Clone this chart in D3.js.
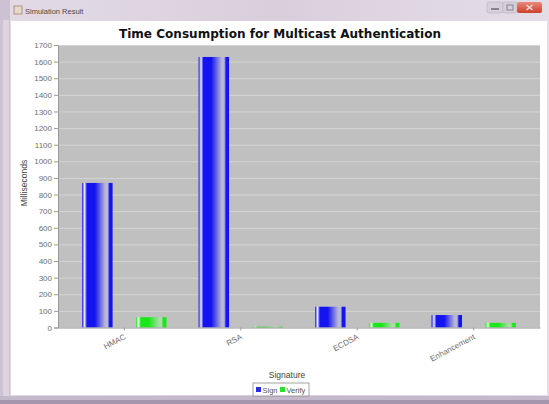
<!DOCTYPE html>
<html><head><meta charset="utf-8">
<script src="https://cdn.jsdelivr.net/npm/d3@7"></script>
<style>html,body{margin:0;padding:0;background:#fff;}svg{display:block;}</style>
</head><body>
<script>
const categories = ["HMAC", "RSA", "ECDSA", "Enhancement"];
const seriesNames = ["Sign", "Verify"];
const signValues = [870, 1628, 125, 75];
const verifyValues = [62, 5, 28, 28];
const yTicks = d3.range(0, 1701, 100);
const chartTitle = "Time Consumption for Multicast Authentication";
const xLabel = "Signature";
const yLabel = "Milliseconds";
const windowTitle = "Simulation Result";

const W = 549, H = 404;
const svg = d3.select("body").append("svg").attr("width", W).attr("height", H);
const defs = svg.append("defs");

// ---- window chrome ----
const tb = defs.append("linearGradient").attr("id","tb").attr("x1",0).attr("x2",1).attr("y1",0).attr("y2",0);
tb.append("stop").attr("offset",0).attr("stop-color","#e2dbe4");
tb.append("stop").attr("offset",0.5).attr("stop-color","#d9cfdc");
tb.append("stop").attr("offset",1).attr("stop-color","#e4dde7");
svg.append("rect").attr("x",0).attr("y",0).attr("width",W).attr("height",H).attr("fill","url(#tb)");
svg.append("rect").attr("x",0).attr("y",0).attr("width",10).attr("height",H).attr("fill","#cdc2d3");
svg.append("rect").attr("x",3).attr("y",20).attr("width",6).attr("height",H-24).attr("fill","#ddd4e0");
svg.append("rect").attr("x",0).attr("y",396).attr("width",W).attr("height",8).attr("fill","#c4b8cc");
svg.append("rect").attr("x",0).attr("y",400).attr("width",W).attr("height",4).attr("fill","#a596ad");
// content area
svg.append("rect").attr("x",11).attr("y",21).attr("width",536).attr("height",374).attr("fill","#ffffff");
// title bar text & icon
svg.append("rect").attr("x",14).attr("y",6).attr("width",8).attr("height",8).attr("fill","#e8d8c8").attr("stroke","#a08070").attr("stroke-width",0.8);
svg.append("text").attr("x",25).attr("y",14).attr("font-family","Liberation Sans, Arial, sans-serif")
  .attr("font-size",7.5).attr("fill","#4a4a4a").text(windowTitle);
// window buttons
svg.append("rect").attr("x",487).attr("y",2).attr("width",16).attr("height",11).attr("rx",2).attr("fill","#d7d0da").attr("stroke","#b8aebd").attr("stroke-width",0.6);
svg.append("rect").attr("x",491).attr("y",8).attr("width",8).attr("height",2).attr("fill","#8a8290");
svg.append("rect").attr("x",503).attr("y",2).attr("width",14).attr("height",11).attr("rx",2).attr("fill","#d7d0da").attr("stroke","#b8aebd").attr("stroke-width",0.6);
svg.append("rect").attr("x",507).attr("y",5).attr("width",6).attr("height",5).attr("fill","none").attr("stroke","#8a8290").attr("stroke-width",1);
const cb = defs.append("linearGradient").attr("id","cb").attr("x1",0).attr("x2",0).attr("y1",0).attr("y2",1);
cb.append("stop").attr("offset",0).attr("stop-color","#e98a7c");
cb.append("stop").attr("offset",1).attr("stop-color","#c9402c");
svg.append("rect").attr("x",517).attr("y",2).attr("width",25).attr("height",11).attr("rx",2).attr("fill","url(#cb)");
svg.append("path").attr("d","M526.5,5 L532.5,10 M532.5,5 L526.5,10").attr("stroke","#f4e0dc").attr("stroke-width",1.4);

// ---- chart ----
const plot = {left: 58, right: 540, top: 45, bottom: 327.5};
const x0 = d3.scaleBand().domain(categories).range([plot.left, plot.right]).paddingInner(0.2757).paddingOuter(0.207);
const x1 = d3.scaleBand().domain(seriesNames).range([0, x0.bandwidth()]).paddingInner(0.434).paddingOuter(0);
const y = d3.scaleLinear().domain([0, 1700]).range([plot.bottom, plot.top]);

svg.append("rect").attr("x",plot.left).attr("y",plot.top).attr("width",plot.right-plot.left).attr("height",plot.bottom-plot.top).attr("fill","#c0c0c0");

// gridlines
const grid = svg.append("g").attr("transform",`translate(${plot.left},0)`)
  .call(d3.axisLeft(y).tickValues(yTicks).tickSize(-(plot.right-plot.left)).tickFormat(""));
grid.select(".domain").remove();
grid.selectAll("line").attr("stroke","#e2e2e2").attr("stroke-width",0.8).attr("opacity",0.75);

// gradients (JFreeChart GradientBarPainter style)
function grad(id, c0, c1, hi){
  const g = defs.append("linearGradient").attr("id",id).attr("x1",0).attr("x2",1).attr("y1",0).attr("y2",0);
  [[0,c0],[0.08,hi],[0.16,c0],[0.42,c0],[0.76,c1],[0.84,c1],[0.9,c0],[1,c0]]
    .forEach(s=>g.append("stop").attr("offset",s[0]).attr("stop-color",s[1]));
}
grad("gSign", "#1414f0", "#b8b8d4", "#eeeeff");
grad("gVerify", "#18e818", "#a8dca8", "#eeffee");
const fills = {Sign: "url(#gSign)", Verify: "url(#gVerify)"};

const rows = categories.map((c,i)=>({cat:c, vals:[{s:"Sign", v:signValues[i]},{s:"Verify", v:verifyValues[i]}]}));
const gCat = svg.append("g").selectAll("g").data(rows).join("g").attr("transform", d=>`translate(${x0(d.cat)},0)`);
gCat.selectAll("rect").data(d=>d.vals).join("rect")
  .attr("x", d=>x1(d.s)).attr("width", x1.bandwidth())
  .attr("y", d=>y(d.v)).attr("height", d=>y(0)-y(d.v))
  .attr("fill", d=>fills[d.s]);

// axes
const yAxis = svg.append("g").attr("transform",`translate(${plot.left},0)`)
  .call(d3.axisLeft(y).tickValues(yTicks).tickFormat(d3.format("d")).tickSize(4).tickPadding(2));
yAxis.select(".domain").attr("stroke","#9a9a9a");
yAxis.selectAll("line").attr("stroke","#9a9a9a");
yAxis.selectAll("text").attr("font-family","Liberation Sans, Arial, sans-serif").attr("font-size",8).attr("fill","#6e6e6e");

const xAxis = svg.append("g").attr("transform",`translate(0,${plot.bottom})`)
  .call(d3.axisBottom(x0).tickSize(3).tickSizeOuter(0));
xAxis.select(".domain").attr("stroke","#9a9a9a");
xAxis.selectAll("line").attr("stroke","#9a9a9a");
xAxis.selectAll("text").attr("font-family","Liberation Sans, Arial, sans-serif").attr("font-size",8).attr("fill","#6e6e6e")
  .attr("text-anchor","end").attr("dy",0).attr("y",0)
  .attr("transform","translate(2,11) rotate(-28)");

// titles
svg.append("text").attr("x",280).attr("y",38).attr("text-anchor","middle")
  .attr("font-family","DejaVu Sans, Verdana, sans-serif").attr("font-weight","bold").attr("font-size",13)
  .attr("textLength",322).attr("lengthAdjust","spacingAndGlyphs").attr("fill","#111").text(chartTitle);
svg.append("text").attr("x",287).attr("y",378).attr("text-anchor","middle")
  .attr("font-family","Liberation Sans, Arial, sans-serif").attr("font-size",8.5).attr("fill","#444").text(xLabel);
svg.append("text").attr("transform","translate(27,183) rotate(-90)").attr("text-anchor","middle")
  .attr("font-family","Liberation Sans, Arial, sans-serif").attr("font-size",8.5).attr("fill","#444").text(yLabel);

// legend
const lg = svg.append("g");
lg.append("rect").attr("x",253).attr("y",383).attr("width",56).attr("height",13).attr("fill","#fff").attr("stroke","#8c8c8c").attr("stroke-width",0.8);
const legendColors = {Sign:"#2a2ae0", Verify:"#2ee02e"};
const lx = [256, 280];
seriesNames.forEach((s,i)=>{
  lg.append("rect").attr("x",lx[i]).attr("y",387).attr("width",5).attr("height",5).attr("fill",legendColors[s]);
  lg.append("text").attr("x",lx[i]+6.5).attr("y",392.5).attr("font-family","Liberation Sans, Arial, sans-serif")
    .attr("font-size",7.5).attr("fill","#555").text(s);
});
</script>
</body></html>
